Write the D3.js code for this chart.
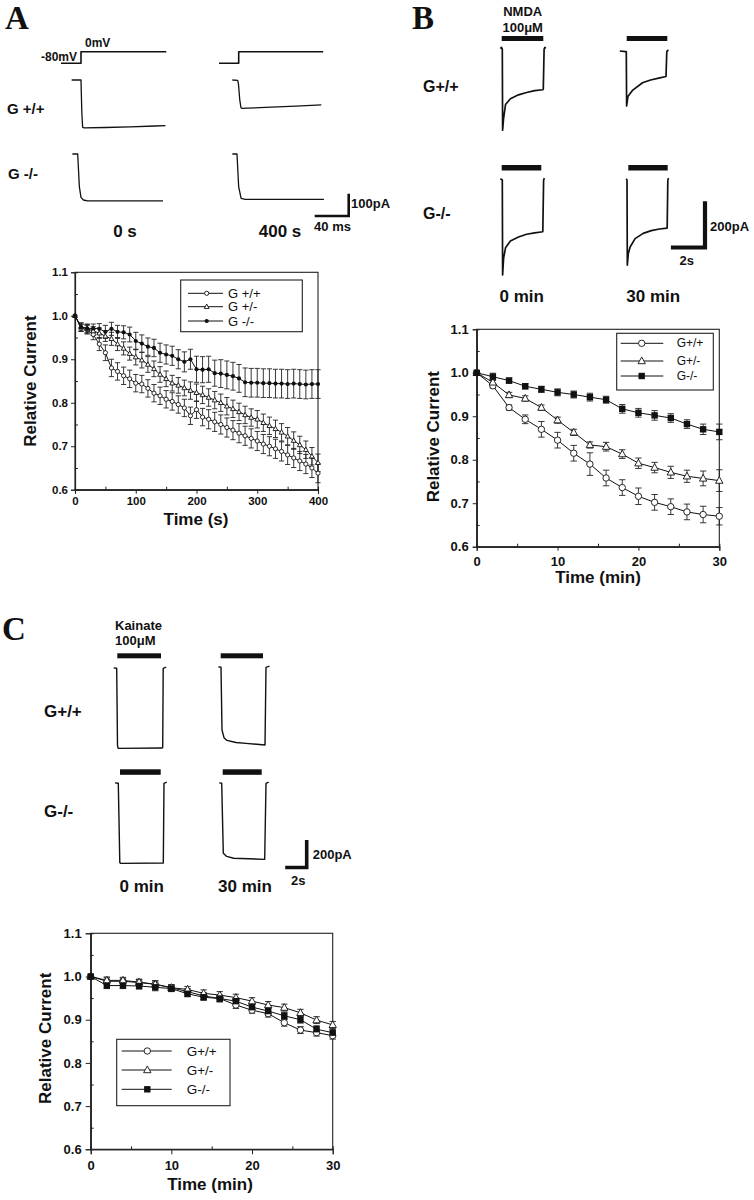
<!DOCTYPE html>
<html><head><meta charset="utf-8">
<script src="https://cdn.jsdelivr.net/npm/d3@7"></script>
<style>
body{margin:0;background:#fff}
svg{display:block}
text{fill:#111}
</style>
</head><body>
<svg id="fig" width="754" height="1200"></svg>
<script>
// ---------------- DATA ----------------
const legendA = ["G +/+", "G +/-", "G -/-"];
const legendBC = ["G+/+", "G+/-", "G-/-"];

const timeA = [0,10,20,30,40,50,60,70,80,90,100,110,120,130,140,150,160,170,180,190,200,210,220,230,240,250,260,270,280,290,300,310,320,330,340,350,360,370,380,390,400];
const aWT  = [1.0,0.972,0.968,0.957,0.935,0.915,0.880,0.872,0.862,0.855,0.845,0.843,0.833,0.822,0.816,0.808,0.803,0.796,0.788,0.770,0.784,0.767,0.762,0.756,0.750,0.743,0.737,0.730,0.724,0.718,0.712,0.705,0.700,0.694,0.688,0.680,0.673,0.666,0.659,0.650,0.638];
const aWTerr=[0,0.008,0.01,0.012,0.015,0.018,0.02,0.02,0.02,0.02,0.02,0.02,0.02,0.02,0.02,0.02,0.02,0.02,0.02,0.02,0.02,0.02,0.022,0.022,0.022,0.022,0.022,0.022,0.022,0.022,0.022,0.022,0.022,0.022,0.022,0.022,0.022,0.022,0.022,0.022,0.022];
const aHet = [1.0,0.975,0.970,0.965,0.960,0.953,0.947,0.935,0.925,0.913,0.905,0.898,0.888,0.878,0.865,0.855,0.845,0.840,0.834,0.828,0.823,0.818,0.812,0.806,0.800,0.792,0.786,0.779,0.772,0.766,0.762,0.754,0.747,0.740,0.732,0.723,0.713,0.703,0.692,0.677,0.662];
const aHetErr=[0,0.008,0.01,0.01,0.012,0.012,0.015,0.015,0.015,0.015,0.018,0.018,0.018,0.018,0.018,0.018,0.018,0.018,0.018,0.02,0.02,0.02,0.02,0.02,0.02,0.02,0.02,0.02,0.02,0.02,0.02,0.02,0.02,0.02,0.02,0.02,0.02,0.02,0.02,0.02,0.02];
const aKO  = [1.0,0.974,0.971,0.971,0.970,0.963,0.970,0.963,0.962,0.957,0.942,0.936,0.929,0.926,0.915,0.911,0.908,0.900,0.894,0.900,0.877,0.876,0.877,0.868,0.867,0.864,0.861,0.856,0.847,0.846,0.846,0.845,0.845,0.844,0.844,0.843,0.844,0.843,0.842,0.843,0.843];
const aKOerr=[0,0.01,0.01,0.01,0.012,0.015,0.015,0.015,0.015,0.017,0.02,0.02,0.02,0.02,0.022,0.022,0.022,0.022,0.023,0.023,0.03,0.03,0.03,0.03,0.032,0.032,0.032,0.032,0.033,0.033,0.033,0.033,0.033,0.033,0.033,0.033,0.033,0.033,0.033,0.033,0.033];

const timeBC = [0,2,4,6,8,10,12,14,16,18,20,22,24,26,28,30];
const bWT  = [1.0,0.970,0.920,0.893,0.870,0.845,0.815,0.790,0.758,0.736,0.716,0.702,0.692,0.680,0.674,0.670];
const bWTerr=[0,0.005,0.006,0.01,0.018,0.018,0.018,0.026,0.018,0.018,0.019,0.018,0.018,0.018,0.019,0.02];
const bHet = [1.0,0.978,0.949,0.941,0.920,0.891,0.863,0.834,0.830,0.813,0.792,0.782,0.771,0.762,0.757,0.752];
const bHetErr=[0,0.005,0.006,0.006,0.006,0.007,0.007,0.007,0.01,0.01,0.012,0.012,0.014,0.014,0.017,0.025];
const bKO  = [1.0,0.991,0.982,0.969,0.962,0.955,0.950,0.944,0.938,0.917,0.908,0.902,0.896,0.882,0.870,0.864];
const bKOerr=[0,0.008,0.006,0.006,0.007,0.008,0.008,0.009,0.008,0.01,0.01,0.011,0.01,0.01,0.012,0.018];

const cWT  = [1.0,0.989,0.989,0.986,0.982,0.974,0.965,0.955,0.949,0.934,0.922,0.914,0.893,0.876,0.870,0.863];
const cWTerr=[0,0.008,0.007,0.007,0.008,0.007,0.007,0.008,0.008,0.008,0.007,0.008,0.008,0.008,0.008,0.008];
const cHet = [1.0,0.991,0.991,0.987,0.982,0.974,0.970,0.961,0.957,0.951,0.943,0.934,0.928,0.916,0.899,0.888];
const cHetErr=[0,0.008,0.007,0.007,0.008,0.007,0.007,0.008,0.008,0.008,0.008,0.008,0.008,0.008,0.008,0.008];
const cKO  = [1.0,0.979,0.979,0.978,0.975,0.972,0.960,0.952,0.949,0.943,0.929,0.920,0.909,0.900,0.878,0.870];
const cKOerr=[0,0.007,0.007,0.007,0.008,0.007,0.007,0.007,0.007,0.007,0.007,0.008,0.008,0.008,0.008,0.008];

const yTickVals = [0.6,0.7,0.8,0.9,1.0,1.1];
const yMinorVals = [0.65,0.75,0.85,0.95,1.05];
const xTicksA = [0,100,200,300,400];
const xMinorA = [50,150,250,350];
const xTicksBC = [0,10,20,30];
const xMinorBC = [5,15,25];

// Example current traces: [time, current]  (A: ms / pA ; B,C: s / pA)
const stepV1 = [[-24.4,-80],[0,-80],[0,0],[104,0]];
const stepV2 = [[-24,-80],[0,-80],[0,0],[103,0]];
const trA_wt0   = [[-11.4,0],[0,0],[1,-150],[2,-218],[4,-221],[30,-219],[60,-216],[90,-212],[103,-210]];
const trA_wt400 = [[-7.5,0],[-1,-2],[0,-20],[1.5,-90],[3,-128],[5,-131],[10,-130],[40,-125],[70,-120],[101,-115]];
const trA_ko0   = [[-6.5,0],[0,0],[2,-150],[4,-200],[7,-212],[12,-216],[104,-216]];
const trA_ko400 = [[-5.7,0],[0,0],[2,-150],[5,-205],[10,-209],[106,-209]];

const trB_wt0   = [[-0.12,3],[-0.05,8],[0,0],[0.02,-352],[0.08,-300],[0.2,-240],[0.5,-215],[1.0,-198],[1.5,-188],[2.0,-180],[2.5,-176],[2.53,-172],[2.58,0],[2.63,8],[2.68,3]];
const trB_wt30  = [[-0.4,3],[-0.05,0],[0,0],[0.02,-236],[0.1,-195],[0.4,-167],[1.0,-135],[1.5,-123],[2.0,-115],[2.45,-108],[2.5,0],[2.55,6],[2.6,3]];
const trB_ko0   = [[-0.12,5],[0,0],[0.02,-413],[0.08,-340],[0.2,-295],[0.5,-265],[1.0,-248],[1.5,-236],[2.0,-230],[2.5,-225],[2.55,0],[2.6,8]];
const trB_ko30  = [[-0.05,5],[0,0],[0.02,-370],[0.08,-320],[0.2,-290],[0.5,-255],[1.0,-232],[1.5,-220],[2.0,-213],[2.48,-209],[2.52,0],[2.57,8]];

const trC_wt0   = [[-0.3,3],[-0.05,0],[0,0],[0.08,-560],[0.15,-580],[4.5,-578],[4.6,-575],[4.65,0],[4.95,8]];
const trC_wt30  = [[-0.27,3],[0,0],[0.1,-454],[0.3,-510],[0.6,-530],[1.5,-545],[2.5,-551],[4.4,-563],[4.5,0],[4.85,8]];
const trC_ko0   = [[-0.33,3],[0,0],[0.15,-575],[0.25,-580],[4.5,-578],[4.57,0],[4.85,8]];
const trC_ko30  = [[-0.24,3],[0,0],[0.16,-507],[0.5,-530],[1.2,-543],[4.3,-551],[4.43,0],[4.7,8]];

// ---------------- DRAWING ----------------
const svg = d3.select("#fig");
const FONT = '"Liberation Sans",Arial,Helvetica,sans-serif';
const SERIF = '"Liberation Serif","Times New Roman",Times,serif';

function txt(x, y, s, opt={}) {
  return svg.append("text").attr("x", x).attr("y", y).text(s)
    .style("font-size", (opt.size || 13) + "px")
    .style("font-weight", opt.weight || "bold")
    .style("font-family", opt.family || FONT)
    .attr("text-anchor", opt.anchor || "start")
    .attr("dominant-baseline", opt.baseline || "central");
}

function panelLetter(x, y, s){ txt(x, y, s, {size:33, family:SERIF, baseline:"alphabetic"}); }

// trace helper: origin pixel x0,y0 ; px per time unit ; px per current unit
function trace(data, x0, y0, kx, ky, sw) {
  const xs = d3.scaleLinear().domain([0,1]).range([x0, x0 + kx]);
  const ys = d3.scaleLinear().domain([0,1]).range([y0, y0 - ky]);
  svg.append("path").datum(data)
    .attr("d", d3.line().x(d=>xs(d[0])).y(d=>ys(d[1])))
    .attr("fill","none").attr("stroke","#111").attr("stroke-width", sw || 1.3)
    .attr("stroke-linejoin","round");
}
function bar(x1, x2, y, h){
  svg.append("rect").attr("x",x1).attr("y",y).attr("width",x2-x1).attr("height",h).attr("fill","#111");
}
function scaleBar(xh1, xv, yTop, yBot, th){
  svg.append("path").attr("d",`M${xh1},${yBot} H${xv} V${yTop}`)
    .attr("fill","none").attr("stroke","#111").attr("stroke-width",th).attr("stroke-linecap","square");
}

function marker(g, type, x, y, r) {
  if (type === "circle") {
    g.append("circle").attr("cx",x).attr("cy",y).attr("r",r).attr("fill","#fff").attr("stroke","#111").attr("stroke-width",0.9);
  } else if (type === "triangle") {
    const h = r*2.1;
    g.append("path").attr("d",`M${x},${y-h*0.6} L${x+r*1.15},${y+h*0.4} L${x-r*1.15},${y+h*0.4}Z`)
      .attr("fill","#fff").attr("stroke","#111").attr("stroke-width",0.9);
  } else if (type === "dot") {
    g.append("circle").attr("cx",x).attr("cy",y).attr("r",r).attr("fill","#111");
  } else if (type === "square") {
    g.append("rect").attr("x",x-r).attr("y",y-r).attr("width",2*r).attr("height",2*r).attr("fill","#111");
  }
}

function chart(cfg) {
  const g = svg.append("g");
  const x = d3.scaleLinear().domain(cfg.xDomain).range(cfg.xRange);
  const y = d3.scaleLinear().domain([0.6,1.1]).range(cfg.yRange);
  // frame
  g.append("rect").attr("x",cfg.xRange[0]).attr("y",cfg.yRange[1])
    .attr("width",cfg.xRange[1]-cfg.xRange[0]).attr("height",cfg.yRange[0]-cfg.yRange[1])
    .attr("fill","none").attr("stroke","#222").attr("stroke-width",1.1);
  // axes
  g.append("g").attr("transform",`translate(${cfg.xRange[0]},0)`)
    .call(d3.axisLeft(y).tickValues(yTickVals).tickFormat(d3.format(".1f")).tickSize(cfg.tick).tickPadding(cfg.pad));
  g.append("g").attr("transform",`translate(${cfg.xRange[0]},0)`)
    .call(d3.axisLeft(y).tickValues(yMinorVals).tickFormat("").tickSize(-3));
  g.append("g").attr("transform",`translate(0,${cfg.yRange[0]})`)
    .call(d3.axisBottom(x).tickValues(cfg.xTicks).tickSize(cfg.tick).tickPadding(cfg.xpad));
  g.append("g").attr("transform",`translate(0,${cfg.yRange[0]})`)
    .call(d3.axisBottom(x).tickValues(cfg.xMinor).tickFormat("").tickSize(-3));
  g.selectAll(".domain").attr("stroke","#222").attr("stroke-width",1.1);
  g.selectAll(".tick line").attr("stroke","#222");
  g.selectAll(".tick text").style("font-family",FONT).style("font-weight","bold")
    .style("font-size",cfg.tickFont + "px").attr("fill","#111");
  // titles
  g.append("text").attr("transform",`translate(${cfg.yTitleX},${cfg.yTitleY}) rotate(-90)`)
    .attr("text-anchor","middle").attr("dominant-baseline","central")
    .style("font-family",FONT).style("font-weight","bold").style("font-size",cfg.titleFont + "px").text("Relative Current");
  g.append("text").attr("x",cfg.xTitleX).attr("y",cfg.xTitleY)
    .attr("text-anchor","middle").attr("dominant-baseline","central")
    .style("font-family",FONT).style("font-weight","bold").style("font-size",cfg.titleFont + "px").text(cfg.xTitle);
  // series
  cfg.series.forEach(s => {
    const pts = cfg.time.map((t,i)=>({t, v:s.vals[i], e:s.err[i]}));
    const eg = g.append("g").attr("stroke","#222").attr("stroke-width",0.9);
    pts.forEach(p => {
      if (p.e <= 0) return;
      const cx = x(p.t), y1 = y(p.v + p.e), y2 = y(p.v - p.e);
      eg.append("line").attr("x1",cx).attr("x2",cx).attr("y1",y1).attr("y2",y2);
      eg.append("line").attr("x1",cx-cfg.cap).attr("x2",cx+cfg.cap).attr("y1",y1).attr("y2",y1);
      eg.append("line").attr("x1",cx-cfg.cap).attr("x2",cx+cfg.cap).attr("y1",y2).attr("y2",y2);
    });
  });
  cfg.series.forEach(s => {
    const pts = cfg.time.map((t,i)=>[t, s.vals[i]]);
    g.append("path").datum(pts).attr("d", d3.line().x(d=>x(d[0])).y(d=>y(d[1])))
      .attr("fill","none").attr("stroke","#111").attr("stroke-width",1.0);
  });
  cfg.series.forEach(s => {
    cfg.time.forEach((t,i)=> marker(g, s.marker, x(t), y(s.vals[i]), cfg.r));
  });
  // legend
  const L = cfg.legend;
  g.append("rect").attr("x",L.x).attr("y",L.y).attr("width",L.w).attr("height",L.h)
    .attr("fill","#fff").attr("stroke","#222").attr("stroke-width",1.1);
  cfg.series.forEach((s,i) => {
    const ly = L.rows[i];
    g.append("line").attr("x1",L.lx1).attr("x2",L.lx2).attr("y1",ly).attr("y2",ly).attr("stroke","#111").attr("stroke-width",1);
    marker(g, s.marker, L.mx, ly, cfg.r);
    g.append("text").attr("x",L.tx).attr("y",ly).attr("dominant-baseline","central")
      .style("font-family",FONT).style("font-size",L.font + "px").style("font-weight","normal").text(s.name);
  });
}

// ======== Panel A ========
panelLetter(5, 29, "A");
txt(77, 57, "-80mV", {size:12, anchor:"end"});
txt(85, 43, "0mV", {size:12});
const kAx = 0.82, kAy = 0.217, kV = 0.145;
trace(stepV1, 81, 51.7, kAx, kV, 1.6);
trace(stepV2, 238.7, 51.7, kAx, kV, 1.6);
txt(7, 108, "G +/+", {size:15});
txt(8, 173, "G -/-", {size:15});
trace(trA_wt0, 81, 80, kAx, kAy);
trace(trA_wt400, 238.5, 80, kAx, kAy);
trace(trA_ko0, 77.7, 154, kAx, kAy);
trace(trA_ko400, 237, 154, kAx, kAy);
scaleBar(316, 348.7, 195, 216, 2.6);
txt(351, 203.5, "100pA", {size:13});
txt(332.5, 226, "40 ms", {size:13, anchor:"middle"});
txt(125, 231.5, "0 s", {size:17, anchor:"middle"});
txt(280, 231.5, "400 s", {size:17, anchor:"middle"});

chart({
  xDomain:[0,400], xRange:[75,318], yRange:[489.7,272.3],
  xTicks:xTicksA, xMinor:xMinorA, tick:4, pad:3, xpad:3, tickFont:11.5, titleFont:17,
  yTitleX:30, yTitleY:381, xTitleX:196, xTitleY:519, xTitle:"Time (s)",
  time:timeA, r:2.1, cap:2.6,
  series:[
    {name:legendA[0], vals:aWT, err:aWTerr, marker:"circle"},
    {name:legendA[1], vals:aHet, err:aHetErr, marker:"triangle"},
    {name:legendA[2], vals:aKO, err:aKOerr, marker:"dot"}
  ],
  legend:{x:180.7,y:280,w:121.6,h:51.7,rows:[293.3,306.7,321],lx1:188,lx2:223,mx:206.7,tx:228,font:13}
});

// ======== Panel B ========
panelLetter(412, 29, "B");
txt(522.7, 11.7, "NMDA", {size:13, anchor:"middle"});
txt(522.7, 27, "100\u03BCM", {size:13, anchor:"middle"});
bar(501.7, 543.3, 36, 5);
bar(626.7, 667.3, 36, 5);
bar(501.7, 541.3, 165, 5.5);
bar(628.3, 667.7, 165, 5.5);
txt(423, 86.7, "G+/+", {size:16});
txt(423, 213.3, "G-/-", {size:16});
const kBx = 16.2, kBy = 0.23;
trace(trB_wt0, 502.3, 49.3, kBx, kBy, 1.7);
trace(trB_wt30, 626.3, 51.7, kBx, kBy, 1.7);
trace(trB_ko0, 502.3, 180, kBx, kBy, 1.7);
trace(trB_ko30, 627, 180, kBx, kBy, 1.7);
scaleBar(673, 705, 203.3, 247.5, 4.2);
txt(710, 226.7, "200pA", {size:13});
txt(686.7, 260, "2s", {size:13, anchor:"middle"});
txt(521.7, 296.5, "0 min", {size:17, anchor:"middle"});
txt(653.3, 296.5, "30 min", {size:17, anchor:"middle"});

chart({
  xDomain:[0,30], xRange:[476.7,719.3], yRange:[546.7,329.3],
  xTicks:xTicksBC, xMinor:xMinorBC, tick:4, pad:4, xpad:6, tickFont:13, titleFont:17,
  yTitleX:433.3, yTitleY:436.7, xTitleX:598, xTitleY:577, xTitle:"Time (min)",
  time:timeBC, r:3.2, cap:3.2,
  series:[
    {name:legendBC[0], vals:bWT, err:bWTerr, marker:"circle"},
    {name:legendBC[1], vals:bHet, err:bHetErr, marker:"triangle"},
    {name:legendBC[2], vals:bKO, err:bKOerr, marker:"square"}
  ],
  legend:{x:616.7,y:333.3,w:96.6,h:56.7,rows:[343.3,361,376],lx1:620.7,lx2:663.3,mx:641.7,tx:676.7,font:12}
});

// ======== Panel C ========
panelLetter(2, 640, "C");
txt(115, 625, "Kainate", {size:13});
txt(115, 640, "100\u03BCM", {size:13});
bar(117.3, 161, 653.3, 5);
bar(220.7, 263, 653.3, 5);
bar(120, 160.7, 769.3, 5.5);
bar(222.7, 261.7, 769.3, 5.5);
txt(44, 711.7, "G+/+", {size:17});
txt(44, 811.7, "G-/-", {size:17});
const kCx = 10, kCy = 0.138;
trace(trC_wt0, 116.7, 668.3, kCx, kCy, 1.4);
trace(trC_wt30, 221, 667.3, kCx, kCy, 1.4);
trace(trC_ko0, 118.3, 783.3, kCx, kCy, 1.4);
trace(trC_ko30, 221.7, 783.3, kCx, kCy, 1.4);
scaleBar(287, 306.7, 841.7, 867.5, 3.6);
txt(312.7, 854.3, "200pA", {size:13});
txt(298.3, 880, "2s", {size:13, anchor:"middle"});
txt(141.7, 886.7, "0 min", {size:17, anchor:"middle"});
txt(245, 886.7, "30 min", {size:17, anchor:"middle"});

chart({
  xDomain:[0,30], xRange:[90.7,332.7], yRange:[1149.3,933.3],
  xTicks:xTicksBC, xMinor:xMinorBC, tick:5, pad:4, xpad:6, tickFont:13, titleFont:17,
  yTitleX:45, yTitleY:1038.3, xTitleX:210, xTitleY:1184.3, xTitle:"Time (min)",
  time:timeBC, r:3.2, cap:3.2,
  series:[
    {name:legendBC[0], vals:cWT, err:cWTerr, marker:"circle"},
    {name:legendBC[1], vals:cHet, err:cHetErr, marker:"triangle"},
    {name:legendBC[2], vals:cKO, err:cKOerr, marker:"square"}
  ],
  legend:{x:116.7,y:1039.3,w:113.3,h:66.4,rows:[1051,1070,1089.3],lx1:121.7,lx2:171.7,mx:147.3,tx:186.7,font:13.5}
});
</script>
</body></html>
